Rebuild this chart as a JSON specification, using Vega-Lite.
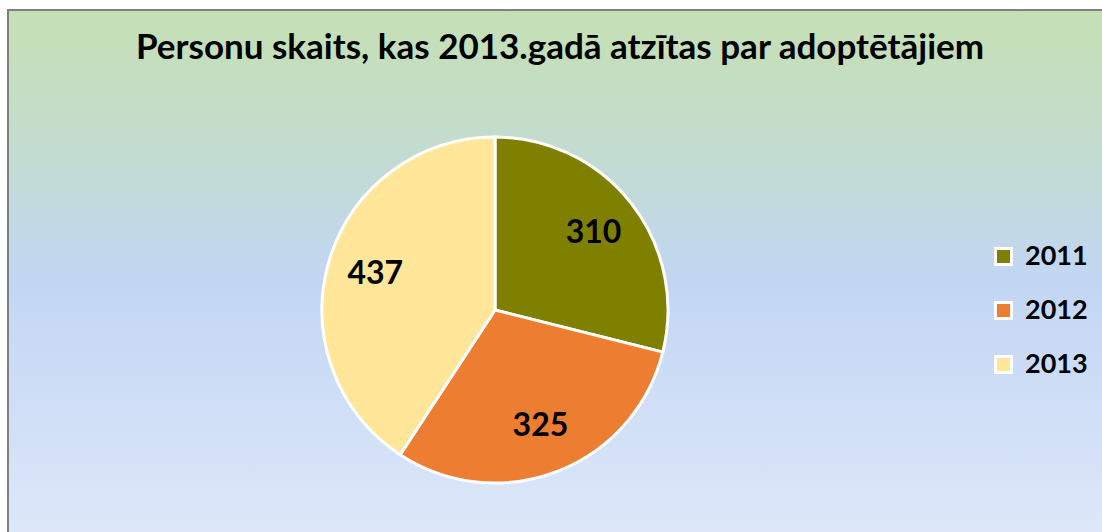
{
  "$schema": "https://vega.github.io/schema/vega-lite/v6.json",
  "width": 1102,
  "height": 532,
  "autosize": "none",
  "padding": {"left": 9, "top": 11, "right": 0, "bottom": 0},
  "background": "white",
  "view": {"stroke": "#808080", "strokeWidth": 4},
  "title": {
    "text": "Personu skaits, kas 2013.gadā atzītas par adoptētājiem",
    "font": "Lato",
    "fontSize": 35,
    "fontWeight": "bold",
    "color": "#000000",
    "anchor": "middle",
    "frame": "group",
    "baseline": "alphabetic",
    "offset": -83
  },
  "data": {
    "values": [
      {"year": "2011", "count": 310},
      {"year": "2012", "count": 325},
      {"year": "2013", "count": 437}
    ]
  },
  "layer": [
    {
      "data": {"values": [{"bg": 1}]},
      "mark": {
        "type": "rect",
        "fill": {
          "gradient": "linear",
          "x1": 0, "y1": 0, "x2": 0, "y2": 1,
          "stops": [
            {"offset": 0, "color": "#C5E0B4"},
            {"offset": 0.25, "color": "#C3DCCE"},
            {"offset": 0.51, "color": "#C2D6F4"},
            {"offset": 1, "color": "#DEE8F9"}
          ]
        }
      },
      "encoding": {}
    },
    {
      "mark": {"type": "arc", "x": 486, "y": 299, "outerRadius": 173, "stroke": "white", "strokeWidth": 3},
      "encoding": {
        "theta": {"field": "count", "type": "quantitative", "stack": true},
        "order": {"field": "year", "type": "ordinal", "sort": "ascending"},
        "color": {
          "field": "year",
          "type": "nominal",
          "scale": {"domain": ["2011", "2012", "2013"], "range": ["#808000", "#ED7D31", "#FFE699"]},
          "legend": {
            "title": null,
            "orient": "none",
            "legendX": 981,
            "legendY": 232,
            "symbolType": "square",
            "symbolSize": 256,
            "symbolStrokeColor": "white",
            "symbolStrokeWidth": 3,
            "symbolOpacity": 1,
            "labelFont": "Lato",
            "labelFontSize": 27,
            "labelFontWeight": "bold",
            "labelColor": "#000000",
            "labelOffset": 8,
            "rowPadding": 25
          }
        }
      }
    },
    {
      "mark": {"type": "text", "x": 486, "y": 299, "radius": 125, "font": "Lato", "fontSize": 32, "fontWeight": "bold", "color": "#000000", "baseline": "middle", "align": "center"},
      "encoding": {
        "theta": {"field": "count", "type": "quantitative", "stack": true},
        "order": {"field": "year", "type": "ordinal", "sort": "ascending"},
        "text": {"field": "count", "type": "quantitative"}
      }
    }
  ]
}
